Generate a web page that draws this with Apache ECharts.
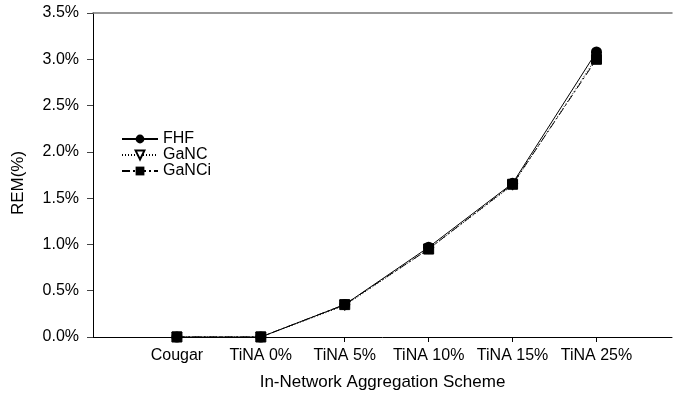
<!DOCTYPE html>
<html>
<head>
<meta charset="utf-8">
<script src="https://cdn.jsdelivr.net/npm/echarts@6/dist/echarts.min.js"></script>
<style>html,body{margin:0;padding:0;background:#fff;}#c{width:673px;height:393px;}</style>
</head>
<body>
<div id="c"></div>
<script>
var categories = ['Cougar', 'TiNA 0%', 'TiNA 5%', 'TiNA 10%', 'TiNA 15%', 'TiNA 25%'];
var fhf   = [0, 0, 0.35, 0.97, 1.66, 3.08];
var ganc  = [0, 0, 0.34, 0.95, 1.64, 3.02];
var ganci = [0, 0, 0.35, 0.95, 1.65, 3.00];

function pts(arr){ return arr.map(function(v,i){ return [i+1, v]; }); }
var font = 'Liberation Sans, Arial, Helvetica, sans-serif';
var catPos = categories.map(function(c,i){ return i+1; });

var chart = echarts.init(document.getElementById('c'), null, {renderer:'canvas'});
chart.setOption({
  animation: false,
  backgroundColor: '#fff',
  grid: {left: 93, right: 1, top: 13, bottom: 56, containLabel: false, outerBoundsMode: 'none'},
  legend: {
    orient: 'vertical', left: 116, top: 126, itemWidth: 36, itemHeight: 11, itemGap: 0,
    textStyle: {fontFamily: font, fontSize: 16, color: '#000'},
    data: ['FHF', 'GaNC', 'GaNCi']
  },
  xAxis: [{
    type: 'value', min: 0, max: 6.9, position: 'bottom',
    name: 'In-Network Aggregation Scheme', nameLocation: 'middle', nameGap: 37,
    nameTextStyle: {fontFamily: font, fontSize: 17, color: '#000'},
    axisLine: {lineStyle: {color: '#000', width: 1}},
    axisTick: {show: true, length: 5, inside: false, customValues: catPos, lineStyle: {color: '#000'}},
    axisLabel: {customValues: catPos, fontFamily: font, fontSize: 16, color: '#000', margin: 11,
      formatter: function(v){ return categories[Math.round(v)-1] || ''; }},
    splitLine: {show: false}
  }, {
    type: 'value', min: 0, max: 6.9, position: 'top',
    axisLine: {show: true, lineStyle: {color: '#777', width: 1.5}},
    axisTick: {show: false}, axisLabel: {show: false}, splitLine: {show: false}
  }],
  yAxis: {
    type: 'value', min: 0, max: 3.5, interval: 0.5,
    name: 'REM(%)', nameLocation: 'middle', nameGap: 66, nameRotate: 90,
    nameTextStyle: {fontFamily: font, fontSize: 17, color: '#000', padding: [0, 16, 0, 0]},
    axisLine: {show: true, lineStyle: {color: '#000', width: 1}},
    axisTick: {show: true, length: 6, lineStyle: {color: '#444'}},
    axisLabel: {fontFamily: font, fontSize: 16, color: '#000', margin: 14,
      formatter: function(v){ return v.toFixed(1) + '%'; }},
    splitLine: {show: false}
  },
  series: [
    {name: 'GaNC', type: 'line', data: pts(ganc), symbol: 'triangle', symbolRotate: 180, symbolSize: 10,
     itemStyle: {color: '#fff', borderColor: '#000', borderWidth: 1},
     lineStyle: {color: '#000', width: 1, type: [1, 2]}, z: 2},
    {name: 'GaNCi', type: 'line', data: pts(ganci), symbol: 'rect', symbolSize: 10,
     itemStyle: {color: '#000', borderColor: '#000'},
     lineStyle: {color: '#000', width: 1, type: [8, 3, 2, 3]}, z: 3},
    {name: 'FHF', type: 'line', data: pts(fhf), symbol: 'circle', symbolSize: 11,
     itemStyle: {color: '#000', borderColor: '#fff', borderWidth: 0},
     lineStyle: {color: '#000', width: 1, type: 'solid'}, z: 4}
  ]
});
</script>
</body>
</html>
